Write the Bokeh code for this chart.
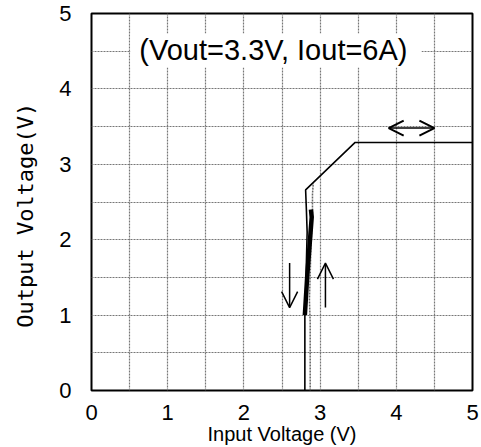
from bokeh.plotting import figure
from bokeh.models import Label, Arrow, OpenHead, FixedTicker
from bokeh.embed import file_html
from bokeh.resources import INLINE

# Data
# Down sweep (input voltage decreasing)
vin_down = [5.0, 4.5, 4.0, 3.46, 2.81, 2.82, 2.83, 2.81, 2.80, 2.80, 2.80]
vout_down = [3.29, 3.29, 3.29, 3.29, 2.66, 2.40, 2.10, 1.30, 1.00, 0.50, 0.0]
# Up sweep (input voltage increasing)
vin_up = [2.87, 2.87, 2.87, 2.86, 2.88, 2.90, 2.90, 2.91]
vout_up = [0.0, 0.50, 0.90, 1.20, 1.90, 2.35, 2.60, 2.75]
# Dense overlapping transition band
vin_band = [2.80, 2.83, 2.86, 2.89, 2.88]
vout_band = [1.00, 1.50, 1.90, 2.30, 2.40]

x_ticks = [0, 1, 2, 3, 4, 5]
y_ticks = [0, 1, 2, 3, 4, 5]
grid_ticks = [0.5, 1.0, 1.5, 2.0, 2.5, 3.0, 3.5, 4.0, 4.5]

annotation_text = "(Vout=3.3V, Iout=6A)"
x_label = "Input Voltage (V)"
y_label = "Output Voltage(V)\u00a0\u00a0"

p = figure(width=481, height=447, x_range=(0, 5), y_range=(0, 5),
           output_backend="svg", toolbar_location=None,
           min_border_left=91, min_border_right=9, min_border_top=13, min_border_bottom=56)

p.outline_line_color = "black"
p.outline_line_width = 2
p.background_fill_color = "white"
p.border_fill_color = "white"

for g in (p.xgrid, p.ygrid):
    g.ticker = FixedTicker(ticks=grid_ticks)
    g.grid_line_color = "#777777"
    g.grid_line_dash = "2 1"
    g.grid_line_width = 1.2

p.xaxis.ticker = FixedTicker(ticks=x_ticks)
p.yaxis.ticker = FixedTicker(ticks=y_ticks)
for ax in (p.xaxis, p.yaxis):
    ax.axis_line_color = None
    ax.major_tick_line_color = None
    ax.minor_tick_line_color = None
    ax.major_label_text_font = "Liberation Sans"
    ax.major_label_text_font_size = "22px"
    ax.major_label_text_color = "black"

p.xaxis.major_label_standoff = 8
p.yaxis.major_label_standoff = 14

p.xaxis.axis_label = x_label
p.xaxis.axis_label_text_font = "Liberation Sans"
p.xaxis.axis_label_text_font_size = "20px"
p.xaxis.axis_label_text_font_style = "normal"
p.xaxis.axis_label_text_color = "black"
p.xaxis.axis_label_standoff = 0

p.yaxis.axis_label = y_label
p.yaxis.axis_label_text_font = "DejaVu Sans Mono"
p.yaxis.axis_label_text_font_size = "22px"
p.yaxis.axis_label_text_font_style = "normal"
p.yaxis.axis_label_text_color = "black"
p.yaxis.axis_label_standoff = 18

# curves
p.line(vin_up, vout_up, line_color="#666666", line_width=1.5, line_dash="2 1")
p.line(vin_down, vout_down, line_color="black", line_width=1.6)
p.line(vin_band, vout_band, line_color="black", line_width=4.5)

# arrows
p.add_layout(Arrow(end=OpenHead(size=16, line_width=1.5, line_color="black"),
                   x_start=2.60, y_start=1.69, x_end=2.60, y_end=1.10,
                   line_width=1.5, line_color="black"))
p.add_layout(Arrow(end=OpenHead(size=16, line_width=1.5, line_color="black"),
                   x_start=3.07, y_start=1.10, x_end=3.07, y_end=1.69,
                   line_width=1.5, line_color="black"))
p.add_layout(Arrow(start=OpenHead(size=15, line_width=2, line_color="black"),
                   end=OpenHead(size=15, line_width=2, line_color="black"),
                   x_start=3.90, y_start=3.48, x_end=4.50, y_end=3.48,
                   line_width=1.5, line_color="black"))

# annotation with white background
p.add_layout(Label(x=2.42, y=4.51, text=annotation_text, text_align="center", text_baseline="middle",
                   text_font="Liberation Sans", text_font_size="29px", text_color="black",
                   background_fill_color="white", background_fill_alpha=1.0,
                   padding=dict(left=9, right=14, top=1, bottom=1)))

open("out.html", "w").write(file_html(p, INLINE))
